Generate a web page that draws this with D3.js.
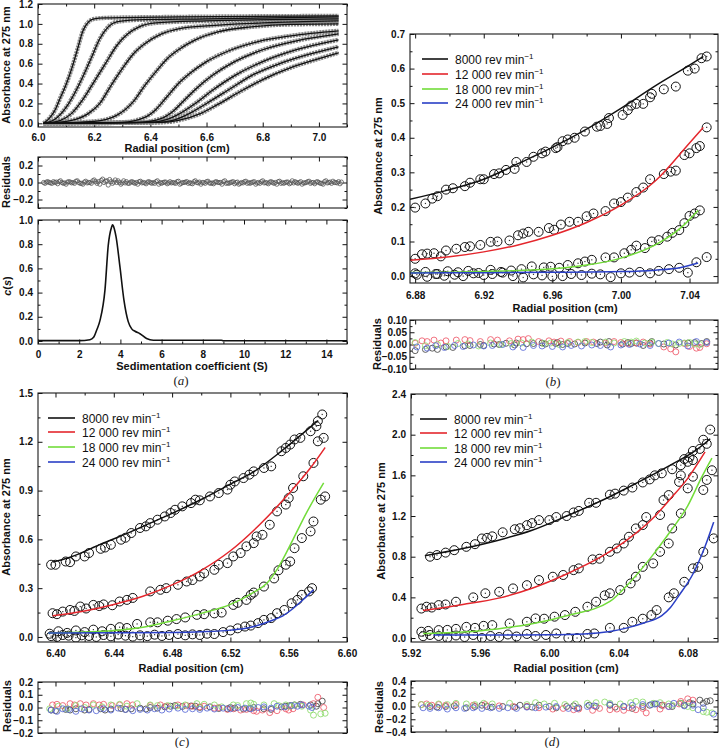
<!DOCTYPE html>
<html><head><meta charset="utf-8">
<script src="https://cdn.jsdelivr.net/npm/d3@7"></script>
<style>body{margin:0;background:#fff}svg{display:block}</style>
</head><body><svg id="c" width="721" height="748"></svg>
<script>
// ---------------- DATA ----------------
// Panel (a): sedimentation velocity scans (fitted boundaries)
const aScan1=[[6.02,0],[6.04,0.05],[6.06,0.13],[6.08,0.26],[6.10,0.39],[6.12,0.55],[6.14,0.74],[6.16,0.93],[6.18,1.02],[6.20,1.05],[6.24,1.06],[6.5,1.07],[7.07,1.08]];
const aScan2=[[6.02,0],[6.06,0.04],[6.10,0.16],[6.13,0.3],[6.16,0.47],[6.19,0.66],[6.22,0.85],[6.25,0.97],[6.28,1.02],[6.35,1.04],[6.6,1.05],[7.07,1.07]];
const aScan3=[[6.02,0],[6.08,0.03],[6.12,0.1],[6.16,0.24],[6.20,0.42],[6.24,0.6],[6.28,0.78],[6.32,0.9],[6.36,0.97],[6.42,1.01],[6.6,1.03],[7.07,1.05]];
const aScan4=[[6.02,0],[6.12,0.03],[6.18,0.1],[6.22,0.2],[6.26,0.38],[6.30,0.55],[6.34,0.7],[6.38,0.8],[6.44,0.9],[6.50,0.95],[6.6,0.98],[6.8,1.01],[7.07,1.03]];
const aScan5=[[6.02,0],[6.20,0.02],[6.28,0.08],[6.34,0.22],[6.38,0.38],[6.42,0.52],[6.46,0.65],[6.50,0.74],[6.56,0.84],[6.64,0.92],[6.76,0.97],[6.9,0.995],[7.07,1.0]];
const aScan6=[[6.02,0],[6.30,0.01],[6.38,0.06],[6.42,0.14],[6.46,0.27],[6.50,0.40],[6.54,0.50],[6.60,0.62],[6.68,0.73],[6.78,0.82],[6.9,0.88],[7.07,0.93]];
const aScan7=[[6.02,0],[6.36,0.01],[6.44,0.05],[6.48,0.12],[6.52,0.23],[6.56,0.34],[6.62,0.48],[6.70,0.62],[6.80,0.74],[6.92,0.83],[7.07,0.9]];
const aScan8=[[6.02,0],[6.40,0.01],[6.46,0.04],[6.50,0.09],[6.56,0.2],[6.62,0.33],[6.70,0.48],[6.80,0.62],[6.92,0.74],[7.07,0.84]];
const aScan9=[[6.02,0],[6.42,0.01],[6.48,0.03],[6.54,0.1],[6.60,0.2],[6.68,0.34],[6.76,0.48],[6.86,0.6],[6.96,0.69],[7.07,0.77]];
const aScan10=[[6.02,0],[6.44,0.01],[6.50,0.03],[6.58,0.1],[6.64,0.19],[6.72,0.32],[6.80,0.44],[6.90,0.56],[7.00,0.65],[7.07,0.71]];
const aResX=[6.020,6.035,6.050,6.065,6.080,6.095,6.110,6.125,6.140,6.155,6.170,6.185,6.200,6.215,6.230,6.245,6.260,6.275,6.290,6.305,6.320,6.335,6.350,6.365,6.380,6.395,6.410,6.425,6.440,6.455,6.470,6.485,6.500,6.515,6.530,6.545,6.560,6.575,6.590,6.605,6.620,6.635,6.650,6.665,6.680,6.695,6.710,6.725,6.740,6.755,6.770,6.785,6.800,6.815,6.830,6.845,6.860,6.875,6.890,6.905,6.920,6.935,6.950,6.965,6.980,6.995,7.010,7.025,7.040,7.055,7.070];
const aRes1=[0.0,0.01,-0.01,0.005,0.02,-0.005,0.01,0.0,0.02,-0.01,0.015,0.0,0.03,0.01,0.04,0.02,0.01,0.03,0.0,0.02,-0.01,0.01,0.0,0.015,-0.005,0.01,0.0,0.02,-0.01,0.005,0.01,-0.005,0.015,0.0,0.01,-0.01,0.02,0.005,0.0,0.015,-0.005,0.01,0.0,0.02,-0.01,0.01,0.005,0.0,0.015,-0.01,0.01,0.0,0.02,-0.005,0.01,0.0,0.015,-0.01,0.005,0.02,0.0,0.01,-0.005,0.015,0.0,0.01,-0.01,0.02,0.005,0.0,0.01];
const aRes2=[-0.01,0.0,0.01,-0.015,0.0,-0.02,0.005,-0.01,0.0,-0.02,-0.005,-0.01,0.01,-0.02,0.0,-0.03,-0.01,0.0,-0.02,-0.005,-0.01,0.0,-0.02,-0.005,-0.015,0.0,-0.01,-0.02,0.0,-0.015,-0.005,-0.01,-0.02,0.0,-0.01,-0.015,0.0,-0.02,-0.01,-0.005,-0.015,0.0,-0.02,-0.01,0.0,-0.015,-0.02,-0.005,-0.01,0.0,-0.02,-0.01,-0.005,-0.015,0.0,-0.02,-0.01,0.0,-0.015,-0.005,-0.01,-0.02,0.0,-0.01,-0.015,0.0,-0.02,-0.005,-0.01,0.0,-0.015];
const aRes3=[0.005,-0.005,0.0,0.01,-0.01,0.005,-0.005,0.015,-0.01,0.005,0.0,0.02,-0.01,0.025,0.015,0.035,0.005,0.02,-0.005,0.01,0.005,-0.01,0.01,0.0,0.005,-0.01,0.01,0.0,0.005,-0.005,0.0,0.01,-0.01,0.005,0.0,0.01,-0.005,0.0,0.01,-0.01,0.005,0.0,0.01,-0.005,0.005,0.0,-0.01,0.01,0.0,0.005,-0.005,0.01,0.0,0.005,-0.01,0.01,0.0,0.005,-0.005,0.01,0.0,-0.005,0.01,0.0,0.005,-0.01,0.01,0.0,0.015,-0.005,0.005];
const csDist=[[0,0.003],[2.0,0.003],[2.52,0.01],[2.7,0.03],[2.85,0.09],[3.01,0.17],[3.25,0.42],[3.41,0.79],[3.57,0.94],[3.62,0.96],[3.7,0.93],[3.79,0.86],[3.98,0.61],[4.17,0.34],[4.38,0.16],[4.55,0.1],[4.71,0.08],[4.95,0.06],[5.27,0.02],[5.6,0.006],[8.9,0.006],[9.0,0.002],[15,0.002]];

// Panel (b)
const bX8000=[6.880,6.886,6.890,6.893,6.898,6.902,6.909,6.912,6.918,6.920,6.926,6.929,6.933,6.938,6.939,6.945,6.949,6.954,6.956,6.962,6.963,6.966,6.969,6.973,6.979,6.986,6.988,6.992,6.993,7.001,7.004,7.006,7.009,7.013,7.017,7.018,7.025,7.032,7.039,7.043,7.047,7.050];
const bY8000=[0.198,0.21,0.224,0.231,0.25,0.254,0.26,0.27,0.28,0.28,0.295,0.297,0.307,0.31,0.33,0.33,0.345,0.355,0.36,0.37,0.373,0.39,0.395,0.40,0.418,0.432,0.434,0.44,0.457,0.466,0.48,0.493,0.498,0.498,0.517,0.527,0.54,0.548,0.594,0.60,0.63,0.635];
const bR8000=[-0.025,-0.02,-0.015,-0.02,-0.01,-0.012,-0.005,-0.004,0.0,-0.004,0.002,0.0,0.005,-0.002,0.006,0.003,0.004,0.006,0.002,0.004,0.008,0.0,0.004,0.002,0.006,0.004,0.01,-0.002,0.012,0.002,0.008,0.004,0.006,-0.004,0.006,0.012,0.002,-0.002,0.006,0.008,0.004,0.012];
const bX12000=[6.880,6.884,6.887,6.891,6.895,6.898,6.904,6.909,6.912,6.918,6.924,6.928,6.935,6.940,6.943,6.946,6.952,6.958,6.961,6.965,6.970,6.975,6.980,6.984,6.991,6.996,7.000,7.004,7.009,7.013,7.017,7.025,7.029,7.032,7.037,7.040,7.044,7.046,7.050];
const bY12000=[0.05,0.063,0.065,0.066,0.057,0.074,0.079,0.084,0.086,0.09,0.099,0.1,0.103,0.118,0.123,0.128,0.128,0.139,0.134,0.149,0.157,0.157,0.173,0.181,0.188,0.21,0.214,0.227,0.243,0.256,0.28,0.295,0.302,0.305,0.35,0.355,0.37,0.376,0.43];
const bR12000=[0.005,0.015,0.012,0.018,0.006,0.015,0.018,0.02,0.016,0.012,0.02,0.018,0.015,0.022,0.02,0.024,0.012,0.015,0.01,0.014,0.012,0.008,0.012,0.01,0.006,0.012,0.008,0.004,0.006,0.01,0.002,-0.01,-0.018,-0.03,0.004,-0.008,-0.015,-0.012,0.003];
const bX18000=[6.880,6.886,6.893,6.899,6.905,6.911,6.917,6.924,6.930,6.936,6.942,6.948,6.955,6.959,6.964,6.969,6.975,6.979,6.983,6.991,6.996,7.002,7.006,7.009,7.014,7.018,7.022,7.027,7.030,7.034,7.037,7.040,7.043,7.046];
const bY18000=[0.008,0.012,0.006,0.014,0.011,0.015,0.009,0.018,0.012,0.016,0.02,0.028,0.025,0.027,0.024,0.032,0.037,0.042,0.047,0.054,0.054,0.066,0.076,0.088,0.081,0.10,0.104,0.114,0.125,0.133,0.153,0.174,0.181,0.19];
const bR18000=[0.008,-0.005,0.0,-0.008,0.004,0.002,-0.006,0.006,0.0,0.004,0.006,0.01,0.004,0.006,0.0,0.008,0.01,0.012,0.008,0.01,0.006,0.012,0.01,0.014,0.006,0.01,0.004,0.008,0.002,0.004,0.006,0.008,0.002,0.0];
const bX24000=[6.881,6.887,6.892,6.897,6.903,6.908,6.914,6.920,6.925,6.931,6.937,6.943,6.949,6.954,6.960,6.966,6.971,6.977,6.983,6.988,6.994,7.000,7.005,7.011,7.017,7.022,7.028,7.034,7.039,7.044,7.050];
const bY24000=[0.004,-0.002,0.006,0.001,0.004,0.0,0.008,0.003,0.006,0.01,0.0,-0.004,0.005,0.002,-0.001,0.0,0.006,0.003,0.007,0.005,-0.003,0.008,0.01,0.012,0.008,0.015,0.02,0.024,0.01,0.04,0.055];
const bR24000=[-0.01,-0.015,-0.005,-0.012,-0.004,-0.008,-0.002,-0.006,-0.004,0.0,-0.01,-0.012,-0.004,-0.006,-0.008,-0.01,-0.004,-0.006,-0.002,-0.004,-0.01,-0.002,0.0,0.002,-0.004,0.004,0.006,0.01,-0.006,0.012,0.008];
const bFit8000=[[6.877,0.222],[6.90,0.25],[6.92,0.28],[6.94,0.325],[6.96,0.372],[6.98,0.425],[7.00,0.485],[7.02,0.55],[7.04,0.61],[7.048,0.635]];
const bFit12000=[[6.877,0.046],[6.90,0.056],[6.92,0.07],[6.94,0.09],[6.96,0.118],[6.98,0.155],[7.00,0.205],[7.02,0.275],[7.04,0.385],[7.048,0.43]];
const bFit18000=[[6.877,0.01],[6.90,0.011],[6.92,0.013],[6.94,0.016],[6.96,0.021],[6.98,0.032],[7.00,0.052],[7.02,0.09],[7.035,0.14],[7.045,0.19]];
const bFit24000=[[6.877,0.009],[6.92,0.01],[6.96,0.011],[7.00,0.013],[7.02,0.017],[7.035,0.025],[7.045,0.038]];

// Panel (c)
const cX8000=[6.397,6.400,6.407,6.410,6.414,6.420,6.423,6.431,6.434,6.438,6.445,6.448,6.452,6.458,6.462,6.465,6.470,6.475,6.479,6.482,6.487,6.493,6.496,6.499,6.506,6.512,6.518,6.520,6.523,6.529,6.533,6.536,6.543,6.548,6.555,6.558,6.561,6.564,6.568,6.575,6.579,6.580,6.583];
const cY8000=[0.444,0.444,0.464,0.46,0.495,0.495,0.516,0.542,0.55,0.567,0.598,0.61,0.639,0.67,0.68,0.70,0.721,0.741,0.762,0.782,0.803,0.823,0.844,0.84,0.864,0.885,0.906,0.936,0.956,0.977,0.998,1.018,1.039,1.049,1.142,1.162,1.183,1.214,1.224,1.265,1.296,1.327,1.368];
const cR8000=[-0.02,-0.025,-0.015,-0.02,-0.01,-0.02,-0.015,-0.01,-0.02,-0.012,-0.008,-0.015,-0.01,-0.005,-0.012,0.0,-0.005,0.005,0.01,0.015,0.008,0.012,0.01,0.0,0.005,-0.008,-0.01,0.0,-0.005,-0.012,-0.008,0.0,-0.01,-0.015,0.005,0.01,0.015,0.02,0.025,0.02,0.01,0.03,0.05];
const cX12000=[6.398,6.401,6.405,6.410,6.413,6.417,6.421,6.426,6.430,6.433,6.439,6.444,6.449,6.453,6.465,6.472,6.476,6.484,6.490,6.494,6.499,6.502,6.509,6.512,6.518,6.522,6.527,6.531,6.536,6.538,6.542,6.547,6.552,6.558,6.560,6.563,6.570,6.577,6.580,6.584];
const cY12000=[0.146,0.14,0.156,0.166,0.16,0.187,0.175,0.197,0.19,0.2,0.195,0.218,0.228,0.24,0.28,0.29,0.30,0.321,0.341,0.35,0.372,0.392,0.413,0.444,0.454,0.495,0.516,0.557,0.577,0.618,0.628,0.69,0.772,0.814,0.854,0.916,0.988,1.07,1.203,1.224];
const cR12000=[0.02,0.025,0.015,0.03,0.02,0.03,0.02,0.03,0.02,0.025,0.015,0.02,0.03,0.02,0.015,0.02,0.01,0.02,0.015,0.01,0.005,0.01,-0.005,0.0,-0.015,-0.01,-0.02,-0.015,-0.025,-0.03,-0.02,-0.04,-0.025,-0.01,-0.02,-0.01,0.02,0.03,0.08,0.0];
const cX18000=[6.396,6.402,6.408,6.414,6.420,6.426,6.432,6.438,6.444,6.449,6.456,6.465,6.470,6.477,6.483,6.489,6.497,6.502,6.509,6.514,6.522,6.525,6.531,6.534,6.536,6.543,6.550,6.553,6.558,6.561,6.564,6.569,6.575,6.577,6.582,6.585];
const cY18000=[0.02,0.035,0.025,0.04,0.03,0.045,0.035,0.05,0.06,0.055,0.08,0.09,0.09,0.1,0.11,0.12,0.136,0.14,0.145,0.15,0.197,0.21,0.228,0.259,0.273,0.31,0.36,0.41,0.444,0.464,0.546,0.608,0.649,0.71,0.844,0.864];
const cR18000=[-0.01,0.01,-0.01,0.015,0.0,0.02,0.005,0.02,0.025,0.01,0.03,0.02,0.015,0.015,0.01,0.02,0.03,0.025,0.02,0.005,0.02,0.015,0.03,0.035,0.025,0.02,0.03,0.015,0.02,0.01,0.02,0.01,-0.02,-0.06,-0.05,-0.045];
const cX24000=[6.397,6.401,6.405,6.409,6.414,6.418,6.423,6.428,6.433,6.438,6.443,6.448,6.453,6.458,6.463,6.468,6.473,6.478,6.484,6.489,6.494,6.499,6.504,6.509,6.515,6.520,6.525,6.530,6.534,6.539,6.543,6.548,6.552,6.557,6.562,6.566,6.569,6.574,6.576];
const cY24000=[0.005,0.0,0.012,0.008,-0.004,0.01,0.006,0.0,0.012,0.004,0.015,0.008,0.002,0.01,0.005,0.014,0.006,0.012,0.018,0.01,0.016,0.012,0.02,0.018,0.03,0.04,0.053,0.064,0.07,0.085,0.105,0.116,0.146,0.166,0.207,0.228,0.259,0.28,0.3];
const cR24000=[-0.02,-0.03,-0.01,-0.015,-0.03,-0.01,-0.02,-0.025,-0.01,-0.02,-0.005,-0.015,-0.025,-0.015,-0.02,-0.01,-0.02,-0.012,-0.005,-0.015,-0.01,-0.015,-0.005,-0.012,-0.005,-0.01,0.0,-0.005,-0.01,0.0,0.005,-0.005,0.01,0.005,0.015,0.01,0.02,0.01,0.0];
const cFit8000=[[6.398,0.46],[6.41,0.49],[6.431,0.57],[6.45,0.64],[6.465,0.70],[6.48,0.76],[6.50,0.845],[6.52,0.94],[6.535,1.01],[6.556,1.15],[6.58,1.33]];
const cFit12000=[[6.398,0.13],[6.42,0.16],[6.44,0.2],[6.46,0.25],[6.48,0.32],[6.50,0.41],[6.52,0.53],[6.54,0.69],[6.56,0.88],[6.575,1.04],[6.585,1.165]];
const cFit18000=[[6.395,0.025],[6.42,0.03],[6.44,0.04],[6.46,0.06],[6.48,0.1],[6.50,0.145],[6.52,0.2],[6.535,0.27],[6.545,0.33],[6.553,0.43],[6.563,0.6],[6.572,0.76],[6.584,0.947]];
const cFit24000=[[6.395,0.025],[6.44,0.026],[6.48,0.028],[6.50,0.032],[6.52,0.042],[6.534,0.06],[6.548,0.1],[6.556,0.13],[6.563,0.175],[6.57,0.23],[6.577,0.29]];

// Panel (d)
const dX8000=[5.931,5.935,5.940,5.945,5.952,5.957,5.961,5.964,5.967,5.973,5.980,5.983,5.987,5.990,5.994,6.000,6.004,6.010,6.014,6.017,6.023,6.027,6.035,6.038,6.043,6.048,6.054,6.058,6.061,6.065,6.071,6.076,6.078,6.081,6.083,6.087,6.089,6.091,6.093];
const dY8000=[0.80,0.816,0.84,0.864,0.897,0.923,0.979,0.985,1.0,1.04,1.07,1.08,1.11,1.13,1.16,1.16,1.19,1.2,1.235,1.25,1.33,1.33,1.41,1.42,1.45,1.48,1.53,1.56,1.6,1.62,1.66,1.7,1.76,1.78,1.84,1.86,1.95,1.91,2.05];
const dR8000=[0.0,-0.01,0.0,0.01,-0.02,0.0,0.02,0.0,-0.01,0.0,-0.01,0.02,0.0,-0.01,0.02,0.0,-0.02,0.0,0.01,-0.02,0.02,0.0,0.02,-0.01,0.0,-0.03,0.0,0.02,0.04,0.02,0.0,0.05,0.02,0.06,0.04,0.1,0.05,0.08,0.09];
const dX12000=[5.926,5.929,5.932,5.936,5.940,5.946,5.956,5.963,5.971,5.979,5.987,5.994,6.002,6.008,6.014,6.017,6.025,6.029,6.035,6.039,6.043,6.046,6.050,6.054,6.056,6.064,6.066,6.069,6.075,6.076,6.080,6.083];
const dY12000=[0.29,0.308,0.30,0.324,0.33,0.357,0.40,0.44,0.455,0.488,0.52,0.57,0.603,0.62,0.668,0.685,0.773,0.78,0.848,0.881,0.93,0.996,1.078,1.111,1.19,1.21,1.357,1.406,1.536,1.6,1.733,1.75];
const dR12000=[0.03,0.04,0.02,0.03,0.02,0.03,0.02,0.03,0.01,0.0,0.0,-0.02,-0.04,-0.03,-0.05,-0.04,-0.06,-0.03,-0.05,-0.04,-0.06,-0.02,-0.05,-0.03,-0.1,-0.04,0.02,0.0,0.04,0.08,0.12,0.1];
const dX18000=[5.926,5.930,5.936,5.941,5.946,5.952,5.957,5.962,5.967,5.977,5.987,5.992,5.997,6.003,6.009,6.015,6.022,6.027,6.032,6.035,6.041,6.047,6.050,6.054,6.060,6.064,6.069,6.071,6.076,6.080,6.083,6.089,6.091,6.094];
const dY18000=[0.062,0.07,0.078,0.08,0.09,0.11,0.1,0.12,0.127,0.144,0.16,0.193,0.19,0.21,0.226,0.258,0.308,0.357,0.42,0.44,0.472,0.537,0.603,0.70,0.734,0.848,0.93,1.078,1.226,1.472,1.587,1.456,1.555,1.65];
const dR18000=[0.03,0.02,0.04,0.03,0.05,0.04,0.03,0.05,0.04,0.05,0.03,0.06,0.04,0.05,0.03,0.04,0.05,0.06,0.07,0.05,0.04,0.06,0.08,0.07,0.05,0.06,0.04,0.02,0.05,0.0,-0.02,-0.08,-0.09,-0.1];
const dX24000=[5.927,5.931,5.936,5.941,5.946,5.951,5.956,5.961,5.966,5.971,5.976,5.981,5.987,5.992,5.998,6.004,6.011,6.016,6.022,6.026,6.035,6.043,6.048,6.054,6.059,6.062,6.069,6.072,6.078,6.083,6.086,6.089,6.095];
const dY24000=[0.018,0.03,0.02,0.0,0.025,0.01,0.03,0.0,0.02,0.01,0.035,0.015,0.04,0.02,0.03,0.045,0.0,0.0,0.04,0.045,0.1,0.1,0.16,0.19,0.226,0.275,0.4,0.44,0.553,0.685,0.70,0.848,0.98];
const dR24000=[-0.02,-0.03,-0.02,-0.04,-0.02,-0.03,-0.02,-0.03,-0.02,-0.03,-0.02,-0.03,-0.01,-0.02,-0.01,0.0,-0.03,-0.03,0.0,0.01,0.03,0.0,0.02,0.03,0.03,0.04,0.0,0.05,0.01,0.02,-0.05,-0.02,-0.12];
const dFit8000=[[5.928,0.81],[5.95,0.88],[5.97,0.96],[5.99,1.06],[6.01,1.2],[6.03,1.35],[6.05,1.52],[6.07,1.7],[6.085,1.85],[6.093,1.96]];
const dFit12000=[[5.927,0.27],[5.95,0.33],[5.97,0.39],[5.99,0.49],[6.01,0.63],[6.03,0.8],[6.045,0.965],[6.06,1.18],[6.07,1.37],[6.08,1.57],[6.09,1.83]];
const dFit18000=[[5.927,0.045],[5.95,0.06],[5.97,0.09],[5.99,0.14],[6.01,0.22],[6.035,0.36],[6.045,0.52],[6.06,0.82],[6.07,1.05],[6.08,1.3],[6.088,1.58],[6.094,1.77]];
const dFit24000=[[5.933,0.03],[5.97,0.03],[6.0,0.032],[6.02,0.04],[6.035,0.065],[6.045,0.1],[6.055,0.15],[6.065,0.22],[6.07,0.3],[6.075,0.42],[6.083,0.63],[6.09,0.9],[6.095,1.14]];

// legends / ticks
const speeds=["8000","12 000","18 000","24 000"];
const aXTicks=[6.0,6.2,6.4,6.6,6.8,7.0], aYTicks=[0,0.2,0.4,0.6,0.8,1.0,1.2], aResTicks=[-0.2,0,0.2];
const csXTicks=[0,2,4,6,8,10,12,14], csYTicks=[0,0.2,0.4,0.6,0.8,1.0];
const bXTicks=[6.88,6.92,6.96,7.00,7.04], bYTicks=[0,0.1,0.2,0.3,0.4,0.5,0.6,0.7], bResTicks=[-0.10,-0.05,0,0.05,0.10];
const cXTicks=[6.40,6.44,6.48,6.52,6.56,6.60], cYTicks=[0,0.3,0.6,0.9,1.2,1.5], cResTicks=[-0.2,-0.1,0,0.1,0.2];
const dXTicks=[5.92,5.96,6.00,6.04,6.08], dYTicks=[0,0.4,0.8,1.2,1.6,2.0,2.4], dResTicks=[-0.4,-0.2,0,0.2,0.4];

// ---------------- DRAWING ----------------
const FONT='Arial, "Liberation Sans", sans-serif';
const SERIF='"Times New Roman", "Liberation Serif", serif';
const COL=["#111111","#e4262c","#72dc3a","#2a3fc6"];
const RCOL=["#444444","#ee5a6a","#8ddc6c","#5a6ad8"];
const svg=d3.select('#c');
let clipN=0;

function minorOf(t, dom){
  const step=t[1]-t[0], out=[];
  const lo=Math.min(...dom), hi=Math.max(...dom);
  for(let i=-1;i<t.length;i++){const v=(i<0?t[0]-step/2:t[i]+step/2); if(v>=lo-1e-9&&v<=hi+1e-9) out.push(v);}
  return out;
}
function axisSet(g, fn, scale, tr, major, minor, fmt, pad){
  const a=g.append('g').attr('transform',tr).call(fn(scale).tickValues(major).tickSize(-4.5).tickPadding(pad).tickFormat(fmt||(()=> '')));
  a.select('.domain').remove();
  a.selectAll('line').attr('stroke','#111');
  a.selectAll('text').attr('font-size',10).attr('font-weight','bold').attr('font-family',FONT).attr('fill','#111');
  const m=g.append('g').attr('transform',tr).call(fn(scale).tickValues(minor).tickSize(-2.5).tickFormat(()=>''));
  m.select('.domain').remove(); m.selectAll('line').attr('stroke','#111');
}
function panel(x,y,xt,yt,xf,yf,xpad,ypad){
  const [L,R]=x.range(), [B,T]=y.range();
  const g=svg.append('g');
  const id='clip'+(clipN++);
  svg.append('clipPath').attr('id',id).append('rect').attr('x',L).attr('y',T).attr('width',R-L).attr('height',B-T);
  const xm=minorOf(xt,x.domain()), ym=minorOf(yt,y.domain());
  axisSet(g,d3.axisBottom,x,`translate(0,${B})`,xt,xm,xf,xpad||7);
  axisSet(g,d3.axisTop,x,`translate(0,${T})`,xt,xm,null,3);
  axisSet(g,d3.axisLeft,y,`translate(${L},0)`,yt,ym,yf,ypad||5);
  axisSet(g,d3.axisRight,y,`translate(${R},0)`,yt,ym,null,3);
  const plot=g.append('g').attr('clip-path',`url(#${id})`);
  g.append('rect').attr('x',L).attr('y',T).attr('width',R-L).attr('height',B-T).attr('fill','none').attr('stroke','#1a1a1a').attr('stroke-width',1.1);
  return plot;
}
function ytitle(txt,x,y){
  const t=svg.append('text').attr('transform',`translate(${x},${y}) rotate(-90)`).attr('text-anchor','middle')
    .attr('font-family',FONT).attr('font-size',11).attr('font-weight','bold').attr('fill','#111');
  if(txt==='c(s)'){t.append('tspan').attr('font-style','italic').text('c');t.append('tspan').text('(');t.append('tspan').attr('font-style','italic').text('s');t.append('tspan').text(')');}
  else t.text(txt);
}
function xtitle(txt,x,y){
  svg.append('text').attr('x',x).attr('y',y).attr('text-anchor','middle').attr('font-family',FONT).attr('font-size',11).attr('font-weight','bold').attr('fill','#111').text(txt);
}
function caption(l,x,y){
  const t=svg.append('text').attr('x',x).attr('y',y).attr('text-anchor','middle').attr('font-family',SERIF).attr('font-size',13).attr('fill','#222');
  t.append('tspan').text('('); t.append('tspan').attr('font-style','italic').text(l); t.append('tspan').text(')');
}
function legend(x0,x1,tx,ys){
  speeds.forEach((s,i)=>{
    svg.append('line').attr('x1',x0).attr('x2',x1).attr('y1',ys[i]).attr('y2',ys[i]).attr('stroke',COL[i]).attr('stroke-width',1.6);
    const t=svg.append('text').attr('x',tx).attr('y',ys[i]+4.5).attr('font-family',FONT).attr('font-size',12).attr('fill','#111');
    t.append('tspan').text(s+' rev min');
    t.append('tspan').attr('dy',-5).attr('font-size',8).text('\u22121');
  });
}
const lineGen=(x,y)=>d3.line().x(d=>x(d[0])).y(d=>y(d[1])).curve(d3.curveMonotoneX);

// ----- Panel (a) top -----
{
  const x=d3.scaleLinear().domain([6.0,7.1]).range([38,347]);
  const y=d3.scaleLinear().domain([-0.037,1.2]).range([127,4]);
  const p=panel(x,y,aXTicks,aYTicks,d3.format('.1f'),d3.format('.1f'),6.5);
  const scans=[aScan1,aScan2,aScan3,aScan4,aScan5,aScan6,aScan7,aScan8,aScan9,aScan10];
  const lg=lineGen(x,y);
  scans.forEach(s=>p.append('path').attr('d',lg(s)).attr('fill','none').attr('stroke','#8a8a8a').attr('stroke-width',4.4).attr('stroke-dasharray','2.2 0.8'));
  scans.forEach(s=>p.append('path').attr('d',lg(s)).attr('fill','none').attr('stroke','#111').attr('stroke-width',1.3));
  ytitle('Absorbance at 275 nm',10,65);
  xtitle('Radial position (cm)',177,152);
}
// ----- Panel (a) residuals -----
{
  const x=d3.scaleLinear().domain([6.0,7.1]).range([38,347]);
  const y=d3.scaleLinear().domain([-0.3,0.3]).range([208,157]);
  const p=panel(x,y,aXTicks,aResTicks,null,d3.format('.1f'));
  [aRes1,aRes2,aRes3].forEach((r,k)=>{
    p.selectAll(null).data(aResX.map((v,i)=>[v+k*0.005,r[i]]).filter(d=>d[1]!==undefined)).enter().append('circle')
      .attr('cx',d=>x(d[0])).attr('cy',d=>y(d[1])).attr('r',2.1).attr('fill','none').attr('stroke','#555').attr('stroke-width',0.8);
  });
  ytitle('Residuals',10,182);
}
// ----- Panel (a) c(s) -----
{
  const x=d3.scaleLinear().domain([0,15]).range([38,347]);
  const y=d3.scaleLinear().domain([-0.025,1.0]).range([344,220]);
  const p=panel(x,y,csXTicks,csYTicks,d3.format('d'),d3.format('.1f'),6.5);
  p.append('path').attr('d',lineGen(x,y)(csDist)).attr('fill','none').attr('stroke','#111').attr('stroke-width',1.6);
  ytitle('c(s)',11,286);
  xtitle('Sedimentation coefficient (S)',192,370);
  caption('a',181,385);
}

function dataPanel(xd,xr,yd,yr,rd,rr,xt,yt,rt,yfmt,rfmt,X,Y,R,F,legendCfg,titles,cap,xpad,rpad){
  const x=d3.scaleLinear().domain(xd).range(xr);
  const y=d3.scaleLinear().domain(yd).range(yr);
  const p=panel(x,y,xt,yt,d3.format('.2f'),yfmt,xpad);
  X.forEach((xs,k)=>{
    const pts=xs.map((v,i)=>[v,Y[k][i]]).filter(d=>d[1]!==undefined);
    const gg=p.append('g');
    gg.selectAll('circle').data(pts).enter().append('circle').attr('cx',d=>x(d[0])).attr('cy',d=>y(d[1])).attr('r',4.5)
      .attr('fill','none').attr('stroke','#111').attr('stroke-width',1);
    gg.selectAll('rect').data(pts).enter().append('rect').attr('x',d=>x(d[0])-0.6).attr('y',d=>y(d[1])-0.6).attr('width',1.2).attr('height',1.2).attr('fill','#333');
  });
  F.forEach((f,k)=>p.append('path').attr('d',lineGen(x,y)(f)).attr('fill','none').attr('stroke',COL[k]).attr('stroke-width',1.5));
  legend(...legendCfg);
  const yr2=d3.scaleLinear().domain(rd).range(rr);
  const pr=panel(x,yr2,xt,rt,null,rfmt,7,rpad);
  [0,1,2,3].forEach(k=>{
    const pts=X[k].map((v,i)=>[v,R[k][i]]).filter(d=>d[1]!==undefined);
    pr.append('g').selectAll('circle').data(pts).enter().append('circle').attr('cx',d=>x(d[0])).attr('cy',d=>yr2(d[1])).attr('r',3)
      .attr('fill','none').attr('stroke',RCOL[k]).attr('stroke-width',0.85);
  });
  ytitle('Absorbance at 275 nm',titles[0],titles[1]);
  xtitle('Radial position (cm)',titles[2],titles[3]);
  ytitle('Residuals',titles[4],titles[5]);
  caption(cap[0],cap[1],cap[2]);
}

// ----- Panel (b) -----
dataPanel([6.877,7.0566],[410,718],[-0.02,0.7],[283,34],[-0.1,0.1],[369,320],
  bXTicks,bYTicks,bResTicks,d3.format('.1f'),d3.format('.2f'),
  [bX8000,bX12000,bX18000,bX24000],[bY8000,bY12000,bY18000,bY24000],[bR8000,bR12000,bR18000,bR24000],
  [bFit8000,bFit12000,bFit18000,bFit24000],
  [422,448,455,[59,74,89,103]],[382,156,565,312,381,344],['b',553,386],8.5,3);
// ----- Panel (c) -----
dataPanel([6.388,6.60],[38,347],[-0.031,1.5],[642,393],[-0.2,0.2],[733,682],
  cXTicks,cYTicks,cResTicks,d3.format('.1f'),d3.format('.1f'),
  [cX8000,cX12000,cX18000,cX24000],[cY8000,cY12000,cY18000,cY24000],[cR8000,cR12000,cR18000,cR24000],
  [cFit8000,cFit12000,cFit18000,cFit24000],
  [48,75,82,[418,432,447,462]],[10,517,191,672,11,706],['c',182,746],7.5,5);
// ----- Panel (d) -----
dataPanel([5.92,6.0975],[411,718],[-0.039,2.4],[642,394],[-0.4,0.4],[732,681],
  dXTicks,dYTicks,dResTicks,d3.format('.1f'),d3.format('.1f'),
  [dX8000,dX12000,dX18000,dX24000],[dY8000,dY12000,dY18000,dY24000],[dR8000,dR12000,dR18000,dR24000],
  [dFit8000,dFit12000,dFit18000,dFit24000],
  [420,447,454,[419,433,448,462]],[385,521,566,672,383,707],['d',552,746],7.5,5);
</script></body></html>
